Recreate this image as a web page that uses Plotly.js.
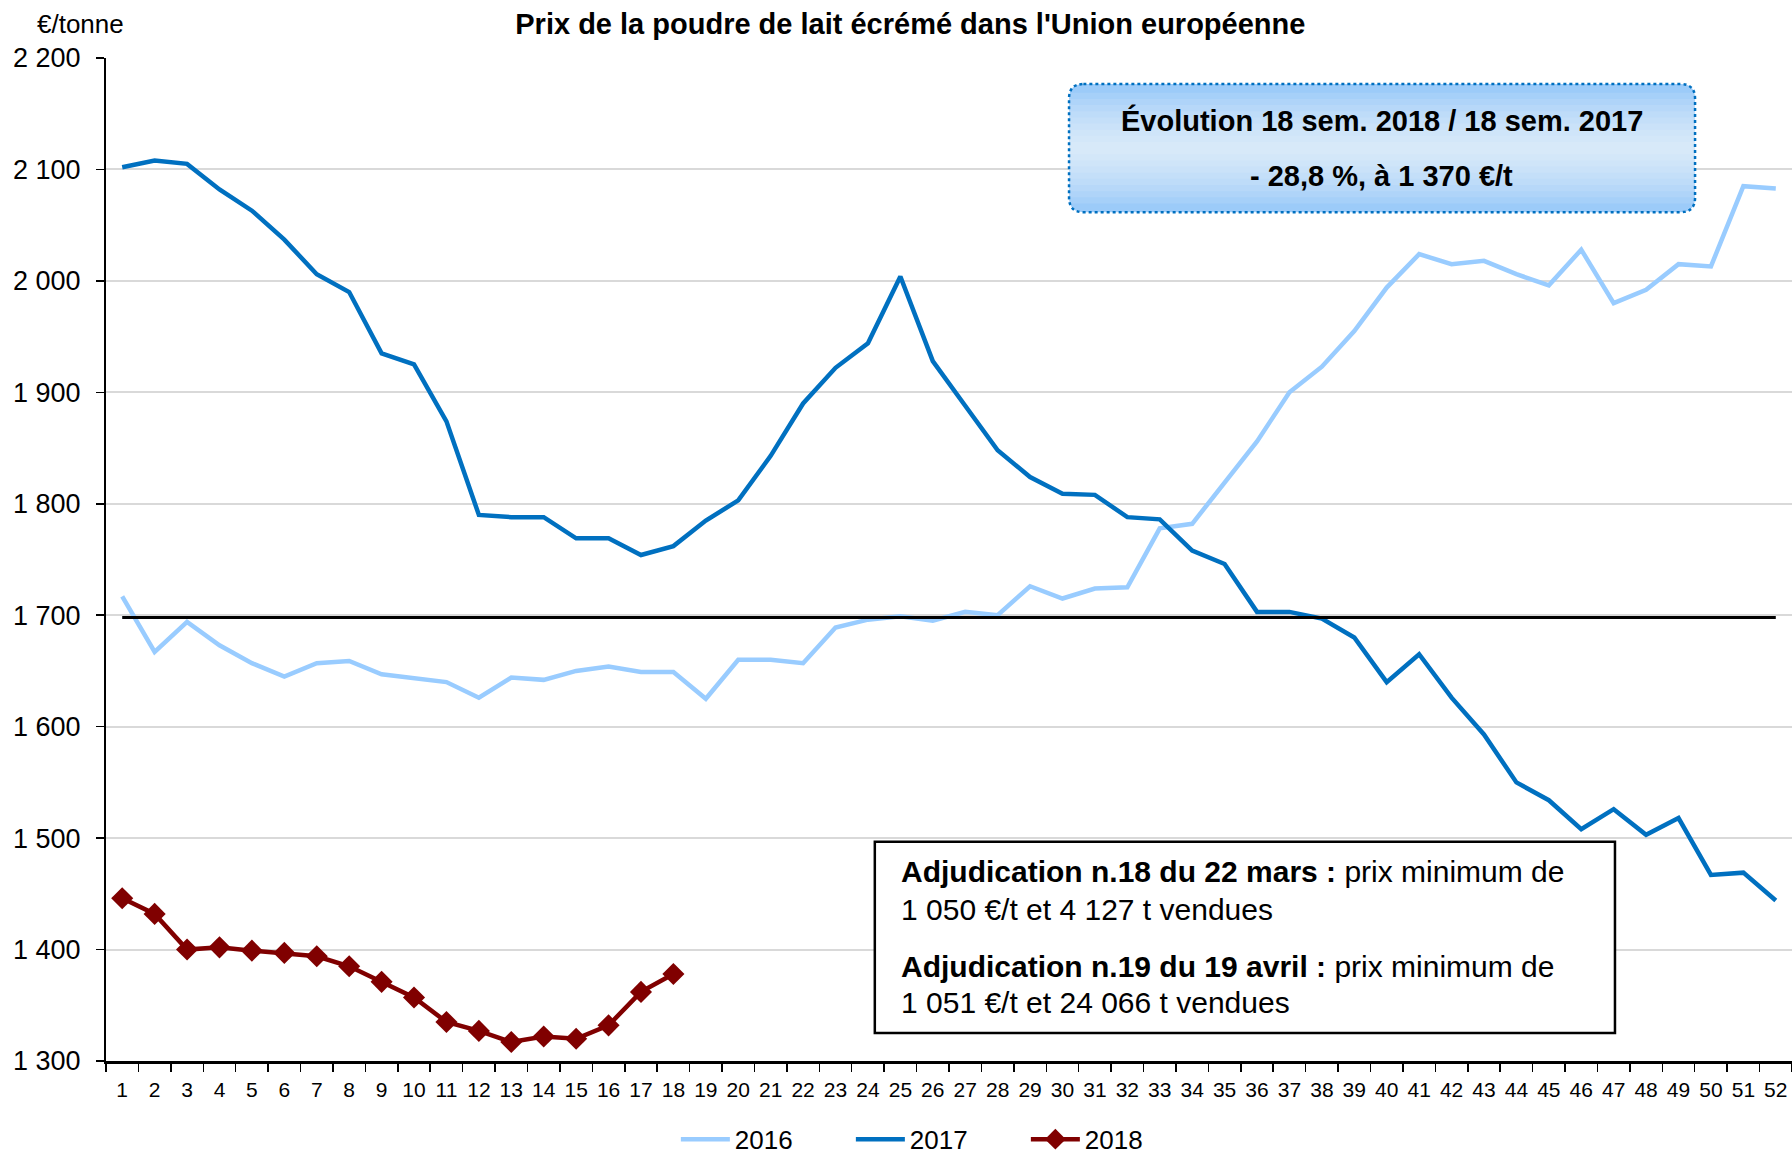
<!DOCTYPE html>
<html>
<head>
<meta charset="utf-8">
<script src="https://cdn.plot.ly/plotly-3.0.1.min.js"></script>
<style>html,body{margin:0;padding:0;background:#fff;}#chart{width:1792px;height:1157px;}</style>
</head>
<body>
<div id="chart"></div>
<script>
// ---- data (€/tonne, weekly) ----
const weeks = Array.from({length: 52}, (_, i) => String(i + 1));
const weekTickLabels = weeks;
const seriesNames = ["2016", "2017", "2018"];
const prices2016 = [1717,1667,1694,1673,1657,1645,1657,1659,1647,1644,1640,1626,1644,1642,1650,1654,1649,1649,1625,1660,
  1660,1657,1689,1696,1699,1695,1703,1700,1726,1715,1724,1725,1778,1782,1819,1856,1900,1923,1955,1994,
  2024,2015,2018,2006,1996,2028,1980,1992,2015,2013,2085,2083];
const prices2017 = [2102,2108,2105,2082,2063,2037,2006,1990,1935,1925,1874,1790,1788,1788,1769,1769,1754,1762,1785,1803,
  1843,1890,1922,1944,2004,1928,1888,1848,1824,1809,1808,1788,1786,1758,1746,1703,1703,1697,1680,1640,
  1665,1626,1593,1550,1534,1508,1526,1503,1518,1467,1469,1444];
const prices2018 = [1446,1432,1400,1402,1399,1397,1394,1385,1371,1357,1335,1327,1317,1322,1320,1332,1362,1378];
const interventionPrice = 1698;
const yTickVals = [1300,1400,1500,1600,1700,1800,1900,2000,2100,2200];

const FONT = "Liberation Sans, Arial, sans-serif";

const traces = [
  {x: weeks, y: prices2016, name: seriesNames[0], type: "scatter", mode: "lines",
   line: {color: "#99CCFF", width: 4.5}},
  {x: weeks, y: prices2017, name: seriesNames[1], type: "scatter", mode: "lines",
   line: {color: "#0070C0", width: 4.5}},
  {x: [weeks[0], weeks[weeks.length - 1]], y: [interventionPrice, interventionPrice], type: "scatter",
   mode: "lines", showlegend: false, hoverinfo: "skip", line: {color: "#000000", width: 3}},
  {x: weeks.slice(0, prices2018.length), y: prices2018, name: seriesNames[2], type: "scatter", mode: "lines+markers",
   line: {color: "#800000", width: 4.5}, marker: {symbol: "diamond", size: 17, color: "#800000"}}
];

// ---- rounded gradient box (layout decoration) ----
const B = {x0: 0.5712, x1: 0.9425, y0: 0.8463, y1: 0.974, rx: 0.0085, ry: 0.0145};
function roundedPath(b) {
  return `M${b.x0 + b.rx},${b.y1} L${b.x1 - b.rx},${b.y1} Q${b.x1},${b.y1} ${b.x1},${b.y1 - b.ry} ` +
         `L${b.x1},${b.y0 + b.ry} Q${b.x1},${b.y0} ${b.x1 - b.rx},${b.y0} L${b.x0 + b.rx},${b.y0} ` +
         `Q${b.x0},${b.y0} ${b.x0},${b.y0 + b.ry} L${b.x0},${b.y1 - b.ry} Q${b.x0},${b.y1} ${b.x0 + b.rx},${b.y1} Z`;
}
const shapes = [];
shapes.push({type: "path", xref: "paper", yref: "paper", path: roundedPath(B), fillcolor: "#9CCBF9", line: {width: 0}, layer: "above"});
const nBands = 9;
const cy = B.y0 + (B.y1 - B.y0) * 0.5;
const halfMax = (B.y1 - B.y0) / 2 - B.ry * 0.6;
for (let k = 0; k < nBands; k++) {
  const h = halfMax * (1 - k / nBands);
  shapes.push({type: "rect", xref: "paper", yref: "paper", x0: B.x0, x1: B.x1, y0: cy - h, y1: cy + h,
    fillcolor: "rgba(255,255,255,0.1)", line: {width: 0}, layer: "above"});
}
shapes.push({type: "path", xref: "paper", yref: "paper", path: roundedPath(B), fillcolor: "rgba(0,0,0,0)",
  line: {color: "#0070C0", width: 2.5, dash: "dot"}, layer: "above"});
// adjudication box
shapes.push({type: "rect", xref: "paper", yref: "paper", x0: 0.456, x1: 0.895, y0: 0.028, y1: 0.2186,
  fillcolor: "#FFFFFF", line: {color: "#000000", width: 2.5}, layer: "above"});

const txt = (x, y, text, size, opts) => Object.assign({xref: "paper", yref: "paper", x: x, y: y, text: text,
  showarrow: false, font: {family: FONT, size: size, color: "#000"}}, opts || {});

const annotations = [
  txt(-0.015, 1.0, "€/tonne", 26, {yanchor: "bottom", xanchor: "center", yshift: 17}),
  txt(0.7568, 0.9381, "<b>Évolution 18 sem. 2018 / 18 sem. 2017</b>", 29, {xanchor: "center", yanchor: "middle"}),
  txt(0.7568, 0.8822, "<b>- 28,8 %, à 1 370 €/t</b>", 29, {xanchor: "center", yanchor: "middle"}),
  txt(0.4703, 0.1886, "<b>Adjudication n.18 du 22 mars :</b> prix minimum de", 30, {xanchor: "left", yanchor: "middle"}),
  txt(0.4703, 0.1507, "1 050 €/t et 4 127 t vendues", 30, {xanchor: "left", yanchor: "middle"}),
  txt(0.4703, 0.0938, "<b>Adjudication n.19 du 19 avril :</b> prix minimum de", 30, {xanchor: "left", yanchor: "middle"}),
  txt(0.4703, 0.0579, "1 051 €/t et 24 066 t vendues", 30, {xanchor: "left", yanchor: "middle"})
];

const layout = {
  width: 1792, height: 1157,
  margin: {l: 106, r: 0, t: 58, b: 96, autoexpand: false},
  paper_bgcolor: "#fff", plot_bgcolor: "#fff",
  separators: ", ",
  font: {family: FONT, color: "#000"},
  title: {text: "<b>Prix de la poudre de lait écrémé dans l'Union européenne</b>", x: 0.508, xref: "container",
    y: 0.979, yref: "container", yanchor: "middle", xanchor: "center", font: {family: FONT, size: 29, color: "#000"}},
  xaxis: {type: "category", categoryorder: "array", categoryarray: weeks, tickvals: weeks, ticktext: weekTickLabels,
    range: [-0.5, 51.5], tickson: "boundaries", ticks: "outside", ticklen: 8, tickwidth: 1.5, tickcolor: "#000",
    showline: true, linecolor: "#000", linewidth: 2.5, showgrid: false, zeroline: false, automargin: false,
    tickangle: 0, tickfont: {family: FONT, size: 21, color: "#000"}, ticklabelstandoff: 8, fixedrange: true},
  yaxis: {range: [1300, 2200], tickvals: yTickVals, tickformat: ",d", ticks: "outside", ticklen: 8, tickwidth: 1.5,
    tickcolor: "#000", showline: true, linecolor: "#000", linewidth: 2, gridcolor: "#D9D9D9", gridwidth: 2,
    zeroline: false, automargin: false, tickfont: {family: FONT, size: 27, color: "#000"}, ticklabelstandoff: 10,
    fixedrange: true},
  showlegend: true,
  legend: {orientation: "h", x: 0.338, xanchor: "left", y: -0.078, yanchor: "middle",
    font: {family: FONT, size: 26, color: "#000"}, itemwidth: 49, entrywidth: 111, entrywidthmode: "pixels",
    bgcolor: "rgba(0,0,0,0)", traceorder: "normal"},
  shapes: shapes,
  annotations: annotations,
  hovermode: false
};

Plotly.newPlot("chart", traces, layout, {displayModeBar: false, staticPlot: true});
</script>
</body>
</html>
